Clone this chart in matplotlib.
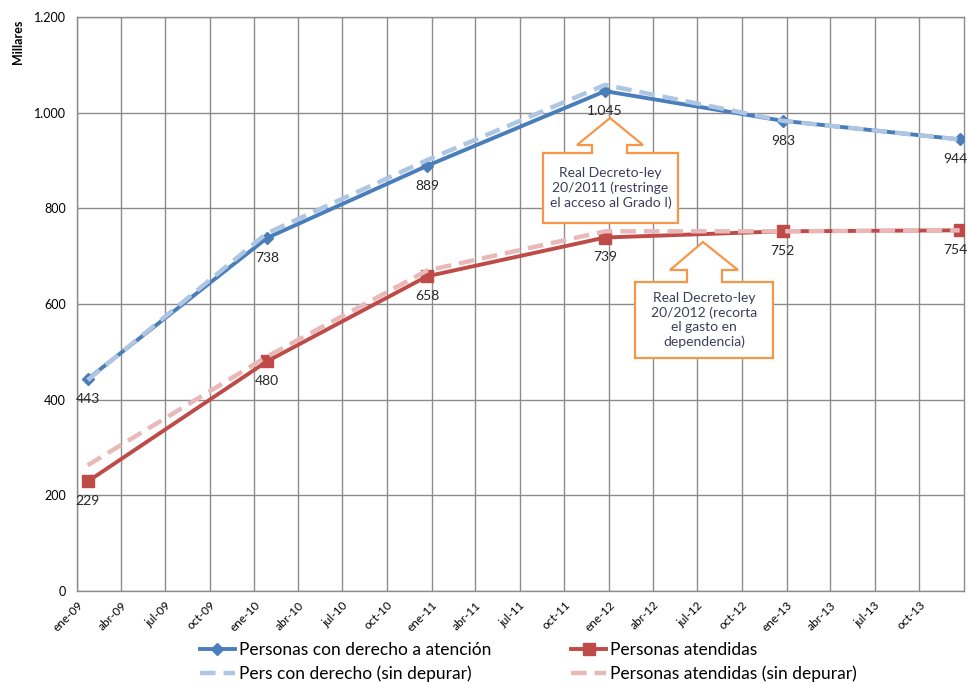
import numpy as np
import matplotlib
matplotlib.use("Agg")
import matplotlib.pyplot as plt
import matplotlib.patches
from matplotlib.ticker import FuncFormatter

plt.rcParams['font.family'] = ['Lato', 'DejaVu Sans']

fechas = np.array(['2009-01-23', '2010-01-27', '2010-12-23',
                   '2011-12-24', '2012-12-24', '2013-12-23'], dtype='datetime64[D]')
con_derecho = [443, 738, 889, 1045, 983, 944]
atendidas = [229, 480, 658, 739, 752, 754]
con_derecho_sd = [441, 748, 901, 1058, 983, 944]
atendidas_sd = [263, 490, 670, 752, 752, 754]
etiq_derecho = ['443', '738', '889', '1.045', '983', '944']
etiq_atendidas = ['229', '480', '658', '739', '752', '754']

ticks_x = np.arange(np.datetime64('2009-01'), np.datetime64('2014-01'), 3).astype('datetime64[D]')
ticks_lab = ['ene-09', 'abr-09', 'jul-09', 'oct-09', 'ene-10', 'abr-10', 'jul-10', 'oct-10',
             'ene-11', 'abr-11', 'jul-11', 'oct-11', 'ene-12', 'abr-12', 'jul-12', 'oct-12',
             'ene-13', 'abr-13', 'jul-13', 'oct-13']

nota1 = 'Real Decreto-ley\n20/2011 (restringe\nel acceso al Grado I)'
nota2 = 'Real Decreto-ley\n20/2012 (recorta\nel gasto en\ndependencia)'

c_azul = '#4A7EBB'
c_rojo = '#BE4B48'
c_azul_cl = '#AFC6E3'
c_rojo_cl = '#E8B9B8'
c_naranja = '#F79646'

W, H = 970, 684
fig = plt.figure(figsize=(9.7, 6.84), dpi=100)
ax = fig.add_axes([77/W, 1-591/H, (964-77)/W, (591-17)/H])

xd = fechas.astype('datetime64[ms]').astype(object)
l1, = ax.plot(xd, con_derecho, color=c_azul, lw=2.8, marker='D', ms=6, zorder=4,
              label='Personas con derecho a atención')
l2, = ax.plot(xd, atendidas, color=c_rojo, lw=2.8, marker='s', ms=9, zorder=4,
              label='Personas atendidas')
l3, = ax.plot(xd, con_derecho_sd, color=c_azul_cl, lw=3.2, ls=(0, (3.5, 1.8)), zorder=5,
              label='Pers con derecho (sin depurar)')
l4, = ax.plot(xd, atendidas_sd, color=c_rojo_cl, lw=3.2, ls=(0, (3.5, 1.8)), zorder=5,
              label='Personas atendidas (sin depurar)')

n = len(xd)
for i, (x, v, t) in enumerate(zip(xd, con_derecho, etiq_derecho)):
    ax.annotate(t, (x, v), xytext=(-3 if i == n-1 else 0, -10), textcoords='offset points',
                ha='center', va='top', fontsize=10, color='#262626', zorder=6)
for i, (x, v, t) in enumerate(zip(xd, atendidas, etiq_atendidas)):
    ax.annotate(t, (x, v), xytext=(-3 if i == n-1 else 0, -10), textcoords='offset points',
                ha='center', va='top', fontsize=10, color='#262626', zorder=6)

ax.set_xlim(np.datetime64('2009-01-01').astype(object), np.datetime64('2014-01-01').astype(object))
ax.set_ylim(0, 1200)
ax.set_yticks(range(0, 1201, 200))
ax.yaxis.set_major_formatter(FuncFormatter(lambda v, p: f'{int(v):,}'.replace(',', '.')))
ax.set_xticks(ticks_x.astype(object))
ax.set_xticklabels(ticks_lab, rotation=45, ha='right', va='top', rotation_mode='anchor', fontsize=8.5)
ax.tick_params(axis='y', labelsize=9, length=0, pad=8)
ax.tick_params(axis='x', length=0, pad=6)
ax.grid(True, color='#8C8C8C', lw=1)
for s in ax.spines.values():
    s.set_color('#8C8C8C')
    s.set_linewidth(1)

fig.text(18/W, 1-42/H, 'Millares', rotation=90, fontsize=9, fontweight='bold',
         ha='center', va='center')


def llamada(x0, x1, y0, y1, tip, hl, hr, sl, sr, yb, texto):
    pts = [(x0, y0), (sl, y0), (sl, yb), (hl, yb), (tip[0], tip[1]), (hr, yb),
           (sr, yb), (sr, y0), (x1, y0), (x1, y1), (x0, y1)]
    pts = [(px/W, 1-py/H) for px, py in pts]
    fig.patches.append(matplotlib.patches.Polygon(pts, closed=True, transform=fig.transFigure,
                                                  fc='white', ec=c_naranja, lw=1.6, zorder=7))
    fig.text((x0+x1)/2/W, 1-(y0+y1)/2/H, texto, ha='center', va='center', fontsize=10,
             color='#3D3D5C', linespacing=1.2, zorder=8)


llamada(543, 678, 153, 223, (610, 118), 577, 643, 592, 627, 145, nota1)
llamada(635, 773, 282, 358, (703, 242), 670, 738, 687, 722, 270, nota2)

fig.legend([l1, l3, l2, l4], [l.get_label() for l in (l1, l3, l2, l4)],
           loc='center', bbox_to_anchor=(0.545, 1-662/H), ncol=2, frameon=False,
           fontsize=12.5, handlelength=2.0, columnspacing=4.6, labelspacing=0.45,
           handletextpad=0.25, borderpad=0.2)

fig.savefig('out.png', dpi=100)
